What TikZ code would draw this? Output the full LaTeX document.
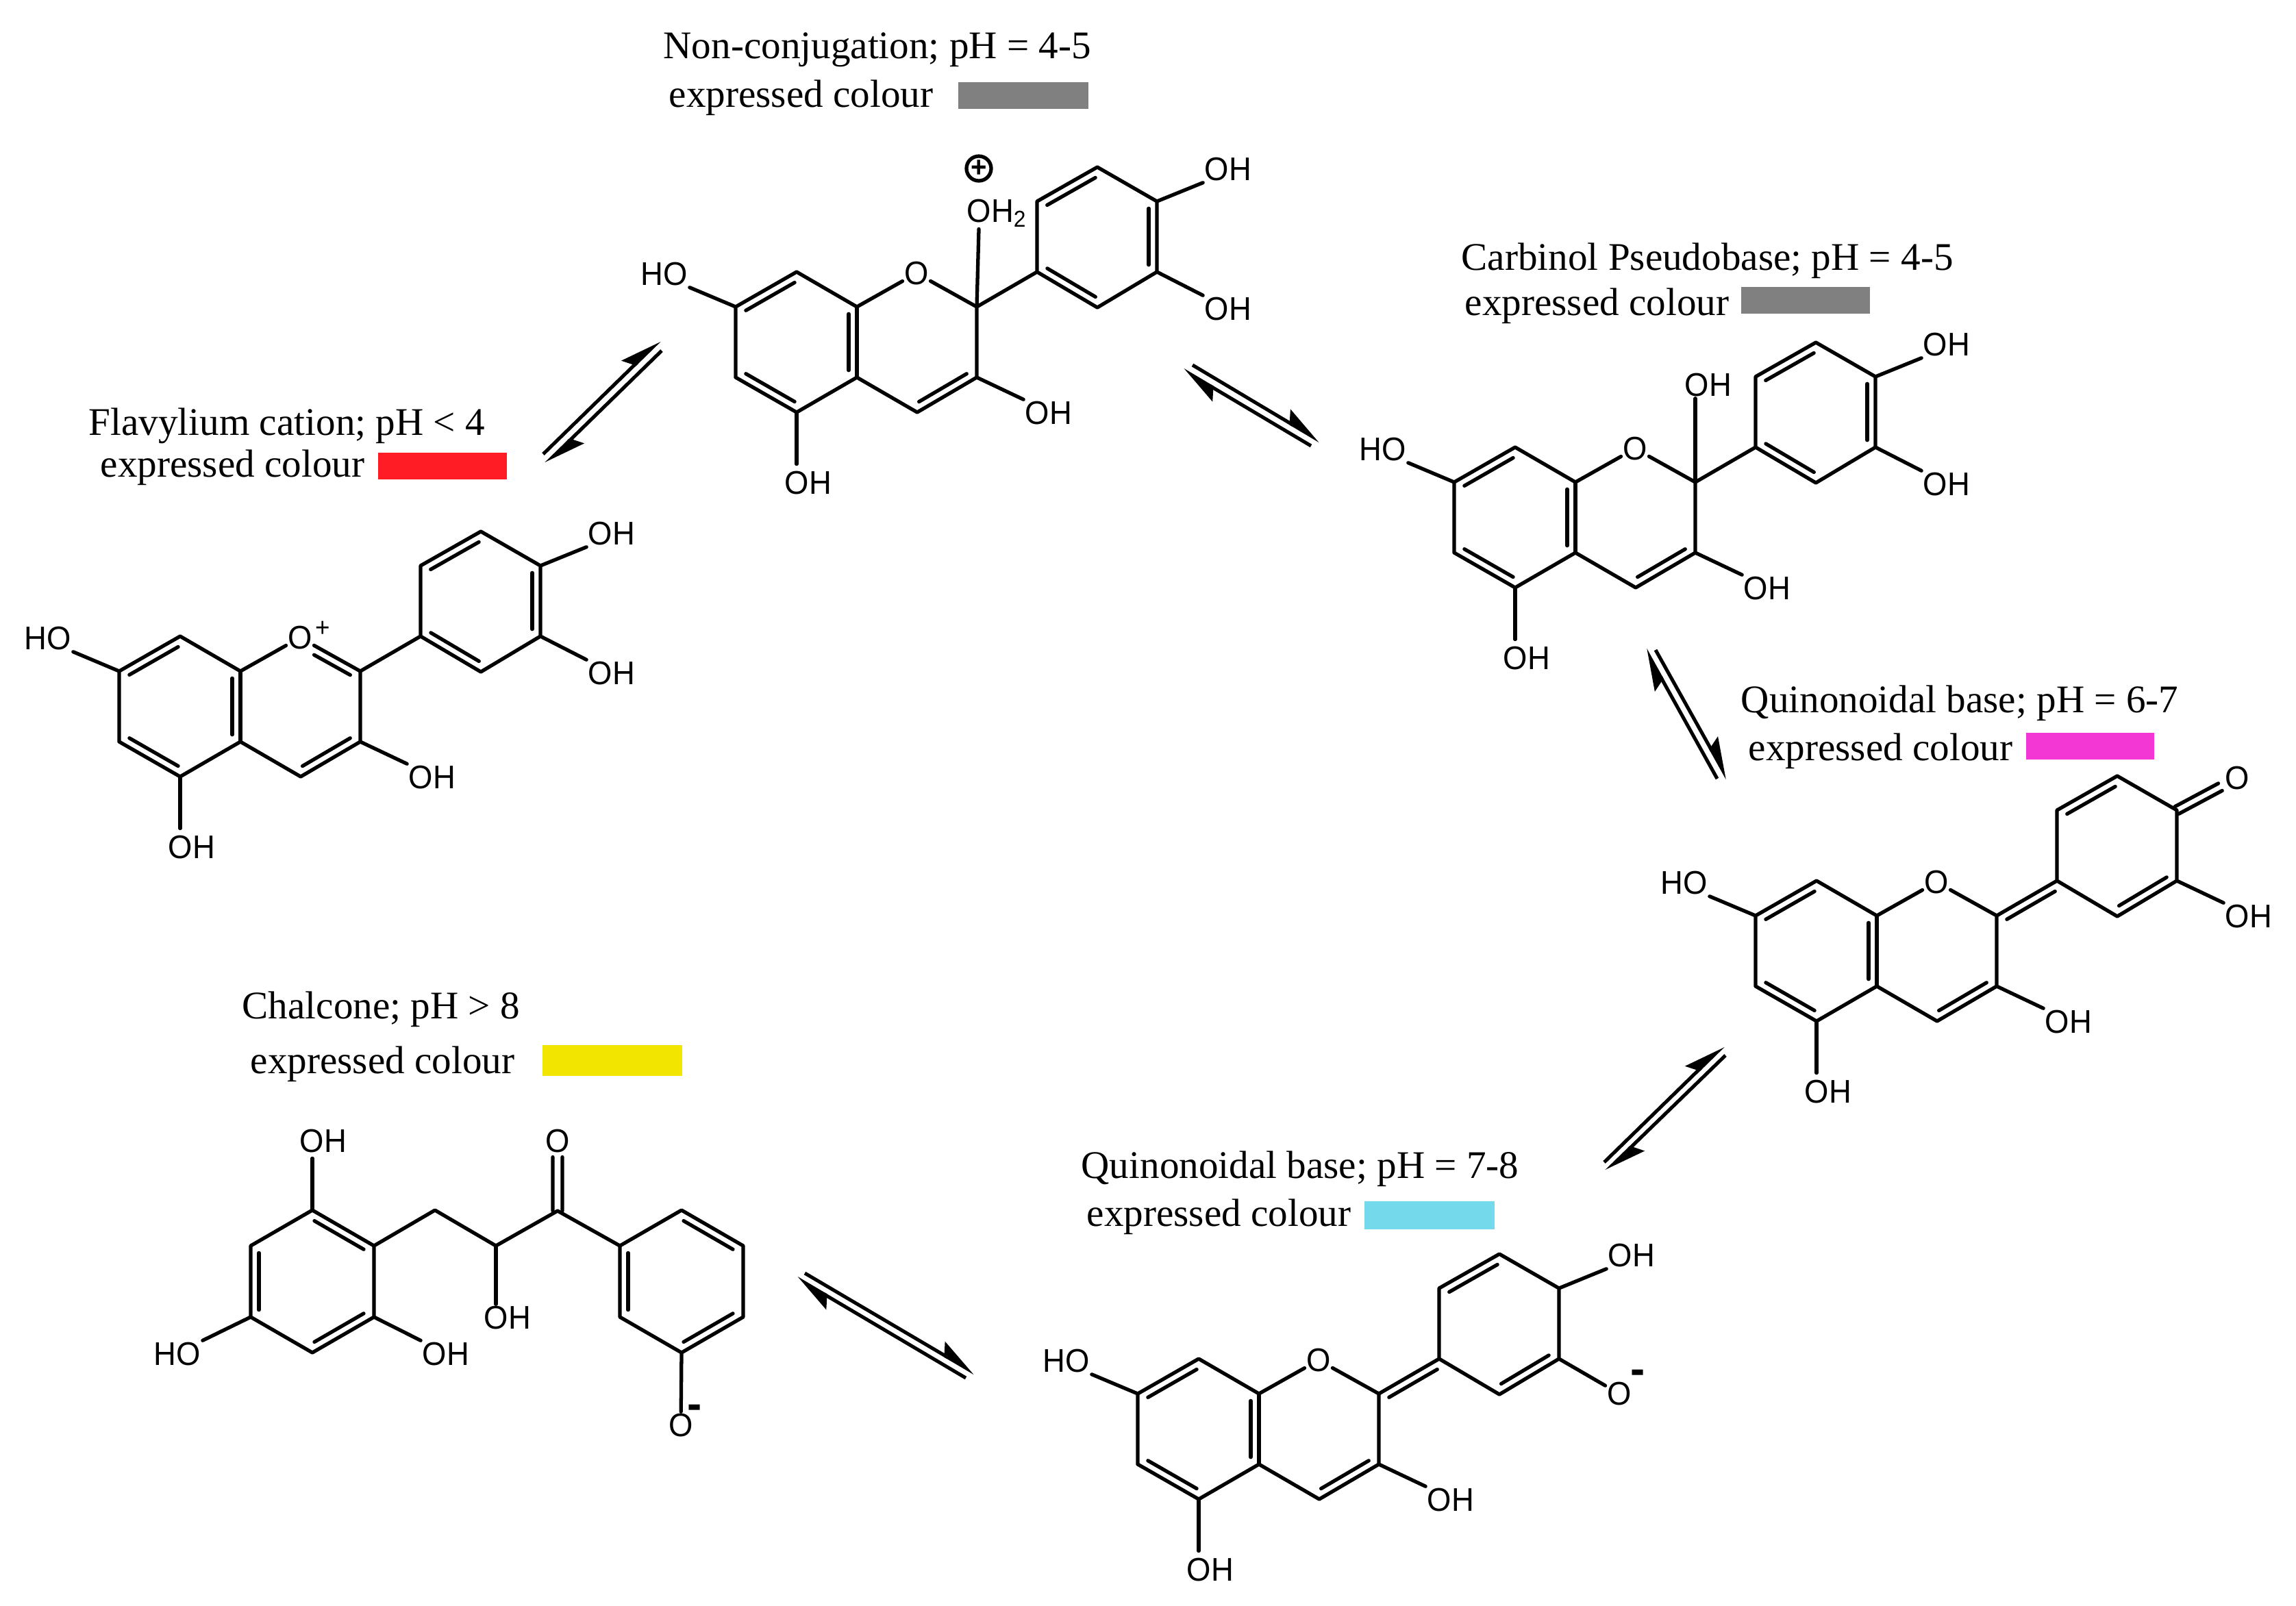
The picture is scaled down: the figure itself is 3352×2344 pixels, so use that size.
\documentclass[tikz,border=0pt]{standalone}
\usepackage{fontspec}
\setmainfont{Liberation Serif}
\newfontfamily\atomfont[FakeStretch=0.95]{Liberation Sans}
\usetikzlibrary{calc}
\usetikzlibrary{arrows.meta}

\definecolor{swgrey}{HTML}{808080}
\definecolor{swred}{HTML}{FF1C24}
\definecolor{swpink}{HTML}{F337D4}
\definecolor{swblue}{HTML}{75D9EC}
\definecolor{swyellow}{HTML}{F2E500}

\tikzset{
  bond/.style={line width=1.5pt, line cap=round, line join=round},
  atom/.style={font=\atomfont\fontsize{13.6pt}{15pt}\selectfont, inner sep=0.6pt},
  charge/.style={font=\atomfont\bfseries\fontsize{19pt}{19pt}\selectfont, inner sep=0pt},
  caption/.style={font=\fontsize{16.25pt}{19pt}\selectfont, anchor=base west, inner sep=0pt},
  eqline/.style={line width=1.45pt, -{Stealth[left,length=15pt,width=10pt,inset=2.5pt]}},
}

% second stroke of a double bond
\newcommand{\dblfrac}[5]{\draw[bond] ($(#1)!#4!(#2)!#3!-90:(#2)$) -- ($(#2)!#5!(#1)!#3!90:(#1)$);}
\newcommand{\dbl}[3][0.12cm]{\dblfrac{#2}{#3}{#1}{0.1}{0.1}}

% rings shared by four of the molecules, origin on c8a
\newcommand{\flavan}{
  \coordinate (c7) at (-177,0);
  \coordinate (c8) at (-88,-51);
  \coordinate (c8a) at (0,0);
  \coordinate (c2) at (175,0);
  \coordinate (c3) at (175,103);
  \coordinate (c4) at (88,154);
  \coordinate (c4a) at (0,103);
  \coordinate (c5) at (-88,154);
  \coordinate (c6) at (-177,103);
  \coordinate (b1) at (263,-51);
  \coordinate (b2) at (263,-154);
  \coordinate (b3) at (351,-204);
  \coordinate (b4) at (438,-154);
  \coordinate (b5) at (438,-51);
  \coordinate (b6) at (351,1);
  \node[atom] (ox) at (87,-49) {O};
  \node[atom] (ho7) at (-281,-48) {HO};
  \node[atom] (oh5) at (-71,257) {OH};
  \node[atom] (oh3) at (280,155) {OH};
  \draw[bond] (c6) -- (c7) -- (c8) -- (c8a) -- (ox) -- (c2) -- (c3) -- (c4) -- (c4a) -- (c5) -- (c6);
  \draw[bond] (c8a) -- (c4a);
  \draw[bond] (c2) -- (b1) -- (b2) -- (b3) -- (b4) -- (b5) -- (b6) -- (b1);
  \draw[bond] (c7) -- (ho7.south east);
  \draw[bond] (c3) -- (oh3.north west);
  \draw[bond, shorten >=2.2pt] (c5) -- (oh5.north -| c5);
  \dbl{c7}{c8}
  \dbl{c8a}{c4a}
  \dbl{c5}{c6}
  \dbl{c3}{c4}
}
\newcommand{\catechol}{
  \node[atom] (oh4) at (542,-201) {OH};
  \node[atom] (oh6) at (542,3) {OH};
  \draw[bond] (b4) -- (oh4.south west);
  \draw[bond] (b5) -- (oh6.north west);
  \dbl{b2}{b3}
  \dbl{b4}{b5}
  \dbl{b6}{b1}
}

\begin{document}
\begin{tikzpicture}[x=0.01cm, y=-0.01cm]
  \useasboundingbox (0,0) rectangle (3352,2344);

  % non-conjugation
  \node[caption] (nctitle) at (968,85) {Non-conjugation; pH = 4-5};
  \node[caption] (nccolour) at (976,156) {expressed colour};
  \fill[swgrey] (1399,120) rectangle (1589,159);
  \begin{scope}[shift={(1251,448)}, name prefix=nc-]
    \flavan
    \catechol
    \node[atom, anchor=base west] (oh2) at (158,-124) {OH\textsubscript{2}};
    \node[draw, circle, line width=1.5pt, minimum size=0.36cm, inner sep=0pt, font=\atomfont\bfseries\fontsize{12pt}{12pt}\selectfont] (plus) at (178,-202) {+};
    \draw[bond] (c2) -- ([xshift=0.2cm]oh2.south west);
  \end{scope}

  % flavylium cation
  \node[caption] (fltitle) at (129,635) {Flavylium cation; pH < 4};
  \node[caption] (flcolour) at (146,696) {expressed colour};
  \fill[swred] (552,661) rectangle (740,700);
  \begin{scope}[shift={(351,980)}, name prefix=fl-]
    \flavan
    \catechol
    \node[atom, font=\atomfont\fontsize{11pt}{11pt}\selectfont] (plus) at (120,-62) {+};
    \dblfrac{ox}{c2}{0.12cm}{0.3}{0.1}
  \end{scope}

  % carbinol pseudobase
  \node[caption] (cbtitle) at (2133,394) {Carbinol Pseudobase; pH = 4-5};
  \node[caption] (cbcolour) at (2138,460) {expressed colour};
  \fill[swgrey] (2542,419) rectangle (2730,458);
  \begin{scope}[shift={(2300,704)}, name prefix=cb-]
    \flavan
    \catechol
    \node[atom] (oh2) at (194,-142) {OH};
    \draw[bond] (c2) -- (oh2.south -| c2);
  \end{scope}

  % quinonoidal base 6-7
  \node[caption] (qatitle) at (2541,1040) {Quinonoidal base; pH = 6-7};
  \node[caption] (qacolour) at (2552,1110) {expressed colour};
  \fill[swpink] (2958,1070) rectangle (3145,1109);
  \begin{scope}[shift={(2740,1337)}, name prefix=qa-]
    \flavan
    \node[atom] (oxb) at (526,-201) {O};
    \node[atom] (oh6) at (543,1) {OH};
    \draw[bond] (b5) -- (oh6.north west);
    \dbl{c2}{b1}
    \dbl{b2}{b3}
    \dbl{b5}{b6}
    \dblfrac{b4}{oxb}{0.06cm}{0}{0.28}
    \dblfrac{b4}{oxb}{-0.06cm}{0}{0.28}
  \end{scope}

  % quinonoidal base 7-8
  \node[caption] (qbtitle) at (1578,1720) {Quinonoidal base; pH = 7-8};
  \node[caption] (qbcolour) at (1586,1790) {expressed colour};
  \fill[swblue] (1992,1754) rectangle (2182,1795);
  \begin{scope}[shift={(1838,2035)}, name prefix=qb-]
    \flavan
    \node[atom] (oh4) at (544,-202) {OH};
    \node[atom] (oxb) at (526,0) {O};
    \node[charge] (minus) at (553,-24) {-};
    \draw[bond] (b4) -- (oh4.south west);
    \draw[bond] (b5) -- (oxb);
    \dbl{c2}{b1}
    \dbl{b2}{b3}
    \dbl{b5}{b6}
  \end{scope}

  % chalcone
  \node[caption] (chtitle) at (353,1487) {Chalcone; pH > 8};
  \node[caption] (chcolour) at (365,1567) {expressed colour};
  \fill[swyellow] (792,1526) rectangle (996,1571);
  \coordinate (a1) at (456,1767);
  \coordinate (a2) at (546,1819);
  \coordinate (a3) at (546,1923);
  \coordinate (a4) at (456,1975);
  \coordinate (a5) at (366,1923);
  \coordinate (a6) at (366,1819);
  \coordinate (ch1) at (635,1767);
  \coordinate (ch2) at (724,1819);
  \coordinate (ch3) at (814,1768);
  \coordinate (d1) at (905,1819);
  \coordinate (d2) at (995,1767);
  \coordinate (d3) at (1085,1819);
  \coordinate (d4) at (1085,1923);
  \coordinate (d5) at (995,1975);
  \coordinate (d6) at (905,1923);
  \node[atom] (choh1) at (472,1666) {OH};
  \node[atom] (chox) at (814,1666) {O};
  \node[atom] (choh2) at (741,1924) {OH};
  \node[atom] (choh3) at (651,1977) {OH};
  \node[atom] (choh4) at (259,1977) {HO};
  \node[atom] (choxm) at (994,2081) {O};
  \node[charge] (chminus) at (1014,2062) {-};
  \draw[bond] (a1) -- (a2) -- (a3) -- (a4) -- (a5) -- (a6) -- (a1);
  \draw[bond] (a2) -- (ch1) -- (ch2) -- (ch3) -- (d1);
  \draw[bond] (d1) -- (d2) -- (d3) -- (d4) -- (d5) -- (d6) -- (d1);
  \draw[bond, shorten >=1.6pt] (a1) -- (choh1.south -| a1);
  \draw[bond] (ch2) -- (choh2.north -| ch2);
  \draw[bond] (a3) -- (choh3.north west);
  \draw[bond] (a5) -- (choh4.north east);
  \draw[bond] (d5) -- (choxm);
  \dbl{a1}{a2}
  \dbl{a3}{a4}
  \dbl{a5}{a6}
  \dbl{d2}{d3}
  \dbl{d4}{d5}
  \dbl{d6}{d1}
  \dblfrac{ch3}{chox}{0.07cm}{0}{0.23}
  \dblfrac{ch3}{chox}{-0.07cm}{0}{0.23}

  % equilibrium arrows
  \coordinate (ra1) at (793,663);
  \coordinate (ra2) at (963,497);
  \coordinate (ra3) at (966,512);
  \coordinate (ra4) at (797,677);
  \draw[eqline] (ra1) -- (ra2);
  \draw[eqline] (ra3) -- (ra4);
  \coordinate (rb1) at (1741,533);
  \coordinate (rb2) at (1927,644);
  \coordinate (rb3) at (1914,651);
  \coordinate (rb4) at (1727,540);
  \draw[eqline] (rb1) -- (rb2);
  \draw[eqline] (rb3) -- (rb4);
  \coordinate (rc1) at (2417,949);
  \coordinate (rc2) at (2522,1137);
  \coordinate (rc3) at (2507,1137);
  \coordinate (rc4) at (2402,948);
  \draw[eqline] (rc1) -- (rc2);
  \draw[eqline] (rc3) -- (rc4);
  \coordinate (rd1) at (2342,1697);
  \coordinate (rd2) at (2516,1527);
  \coordinate (rd3) at (2519,1541);
  \coordinate (rd4) at (2345,1710);
  \draw[eqline] (rd1) -- (rd2);
  \draw[eqline] (rd3) -- (rd4);
  \coordinate (re1) at (1175,1859);
  \coordinate (re2) at (1423,2005);
  \coordinate (re3) at (1410,2012);
  \coordinate (re4) at (1163,1866);
  \draw[eqline] (re1) -- (re2);
  \draw[eqline] (re3) -- (re4);
\end{tikzpicture}
\end{document}
